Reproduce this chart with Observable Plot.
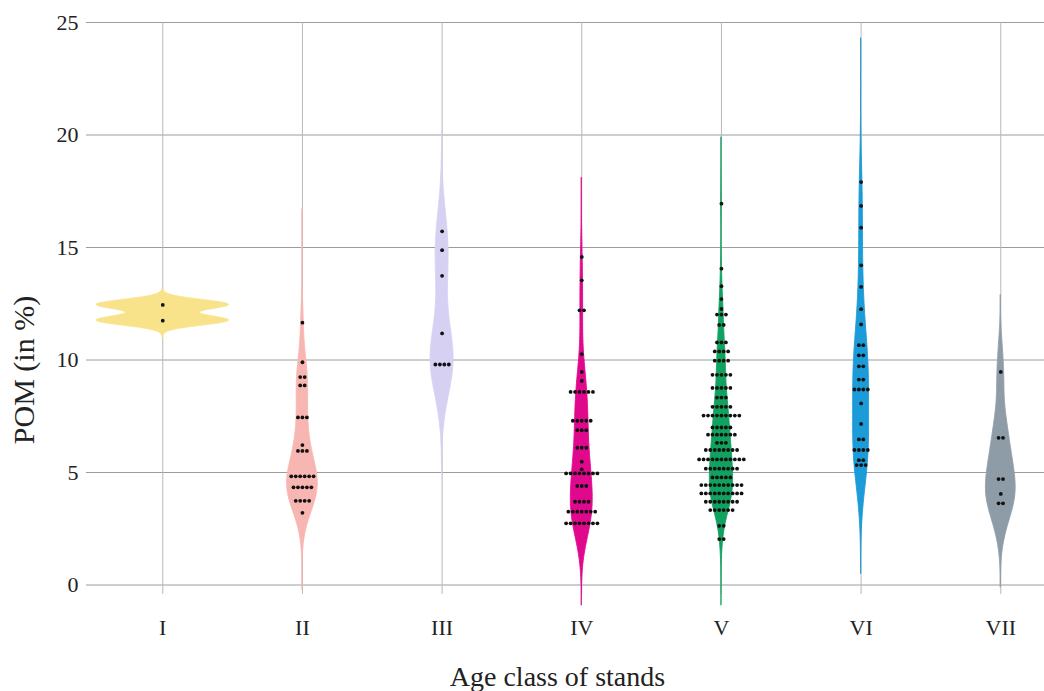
<!DOCTYPE html>
<html><head><meta charset="utf-8">
<script src="https://cdn.jsdelivr.net/npm/d3@7"></script>
<script src="https://cdn.jsdelivr.net/npm/@observablehq/plot@0.6"></script>
<style>body{margin:0;background:#fff}</style>
</head><body><div id="chart"></div>
<script>
const ageClasses = ["I","II","III","IV","V","VI","VII"];
const colors = ["#f9e38a","#f8b6b2","#d6d1f2","#e0088c","#10a25e","#1b9bd7","#8e9ca7"];
// each row: [POM value (%), number of stands with that value]
const rowsI = [[12.45,1],[11.75,1]];
const rowsII = [[11.66,1],[9.90,1],[9.24,2],[8.87,2],[7.45,3],[6.22,1],[5.96,3],[4.83,6],[4.34,5],[3.74,4],[3.21,1]];
const rowsIII = [[15.72,1],[14.88,1],[13.74,1],[11.18,1],[9.80,4]];
const rowsIV = [[14.58,1],[13.54,1],[12.21,2],[10.26,1],[9.47,1],[9.07,1],[8.58,6],[7.30,5],[6.88,3],[6.10,3],[5.48,1],[5.14,1],[4.96,8],[4.40,3],[3.70,4],[3.26,7],[2.74,8]];
const rowsV = [[16.95,1],[14.06,1],[13.28,1],[12.71,1],[12.27,1],[12.02,3],[11.56,2],[10.78,3],[10.38,4],[9.97,4],[9.34,5],[8.76,5],[8.33,3],[7.92,5],[7.53,9],[7.00,5],[6.68,7],[6.32,3],[6.00,8],[5.58,11],[5.17,8],[4.78,5],[4.44,10],[4.07,10],[3.70,8],[3.33,6],[2.63,2],[2.04,2]];
const rowsVI = [[17.91,1],[16.85,1],[15.88,1],[14.21,1],[13.25,1],[12.26,1],[11.58,1],[10.66,2],[10.21,2],[9.72,2],[9.13,2],[8.69,4],[8.07,1],[7.16,1],[6.47,2],[6.00,4],[5.55,2],[5.33,3]];
const rowsVII = [[9.47,1],[6.54,2],[4.71,2],[4.05,1],[3.63,2]];
// kernel density settings
const bandwidths = [0.22,1.0,1.5,1.15,0.8,1.6,1.2];
const violinLow = [10.95,-0.2,4.9,-0.9,-0.9,0.5,-0.1];
const violinHigh = [13.1,16.7,20.2,18.1,19.9,24.3,12.9];
const yTicks = [0,5,10,15,20,25];

const groups = [rowsI,rowsII,rowsIII,rowsIV,rowsV,rowsVI,rowsVII];
const K = 0.52;     // half-width (x units) per unit density
const S = 0.032;    // dot spacing (x units)

const violin = [];
groups.forEach((rows, gi) => {
  const n = d3.sum(rows, r => r[1]);
  const bw = bandwidths[gi], lo = violinLow[gi], hi = violinHigh[gi];
  const steps = 300;
  for (let k = 0; k <= steps; k++) {
    const y = lo + (hi - lo) * k / steps;
    let d = 0;
    for (const [v, c] of rows) d += c * Math.exp(-0.5 * ((y - v) / bw) ** 2);
    d /= n * bw * Math.sqrt(2 * Math.PI);
    violin.push({cls: ageClasses[gi], pos: gi + 1, y, half: d});
  }
});
const dots = [];
groups.forEach((rows, gi) => rows.forEach(([v, c]) => {
  for (let i = 0; i < c; i++) dots.push({pos: gi + 1, y: v, off: i - (c - 1) / 2});
}));

const chart = Plot.plot({
  width: 1044, height: 691,
  marginLeft: 86, marginRight: 0, marginTop: 22, marginBottom: 106.5,
  x: {type: "linear", domain: [0.454, 7.313], label: null},
  y: {domain: [0, 25], label: null},
  color: {domain: ageClasses, range: colors},
  style: {fontFamily: "'Liberation Serif','Times New Roman',serif", fontSize: "22px", color: "#222", background: "#fff"},
  marks: [
    Plot.ruleY(yTicks, {stroke: "#9c9c9c", strokeWidth: 1}),
    Plot.ruleX(d3.range(1, 8), {y1: -0.42, y2: 25, stroke: "#b8b8b8", strokeWidth: 1}),
    Plot.areaX(violin, {y: "y", x1: d => d.pos - d.half * K, x2: d => d.pos + d.half * K, z: "cls", fill: "cls", stroke: "cls", strokeWidth: 0.9}),
    Plot.dot(dots, {x: d => d.pos + d.off * S, y: "y", r: 1.9, fill: "#111", stroke: null}),
    Plot.axisY(yTicks, {tickSize: 0, tickPadding: 8, label: null}),
    Plot.axisX(d3.range(1, 8), {tickSize: 0, tickPadding: 34, tickFormat: d => ageClasses[d - 1], label: null}),
    Plot.text(["Age class of stands"], {frameAnchor: "bottom", dy: 101, dx: -8, fontSize: 28}),
    Plot.text(["POM (in %)"], {frameAnchor: "bottom-left", textAnchor: "middle", lineAnchor: "middle", dx: -62, dy: -215, rotate: -90, fontSize: 30})
  ]
});
document.getElementById("chart").append(chart);
</script>
</body></html>
